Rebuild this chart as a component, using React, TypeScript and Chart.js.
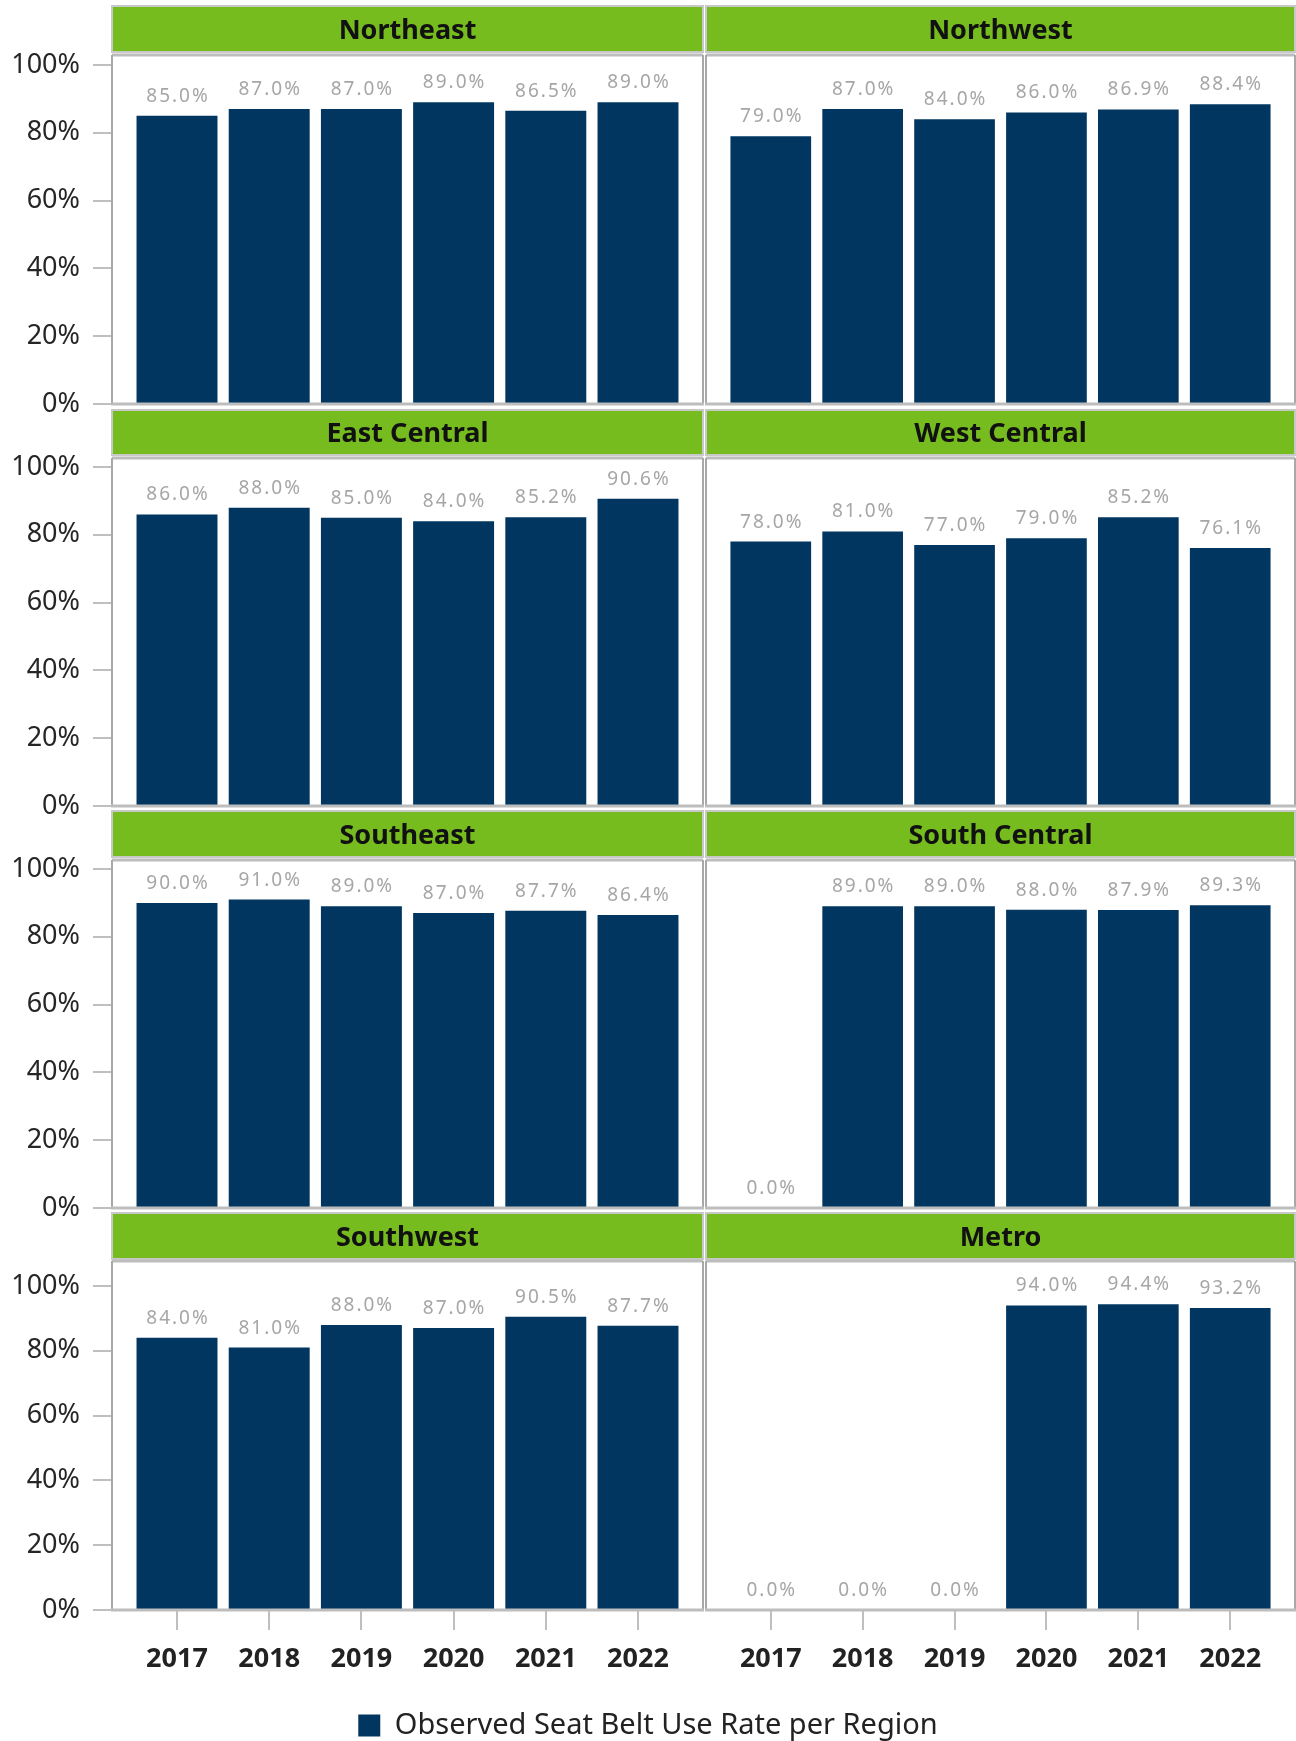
import React, { useEffect, useRef } from 'react';
import { Chart, registerables } from 'chart.js';

Chart.register(...registerables);
Chart.defaults.font.family = "'Noto Sans', sans-serif";

// ---------- data ----------
const YEARS = ['2017', '2018', '2019', '2020', '2021', '2022'];
const REGIONS = ['Northeast', 'Northwest', 'East Central', 'West Central', 'Southeast', 'South Central', 'Southwest', 'Metro'];
const NORTHEAST = [85.0, 87.0, 87.0, 89.0, 86.5, 89.0];
const NORTHWEST = [79.0, 87.0, 84.0, 86.0, 86.9, 88.4];
const EAST_CENTRAL = [86.0, 88.0, 85.0, 84.0, 85.2, 90.6];
const WEST_CENTRAL = [78.0, 81.0, 77.0, 79.0, 85.2, 76.1];
const SOUTHEAST = [90.0, 91.0, 89.0, 87.0, 87.7, 86.4];
const SOUTH_CENTRAL = [0.0, 89.0, 89.0, 88.0, 87.9, 89.3];
const SOUTHWEST = [84.0, 81.0, 88.0, 87.0, 90.5, 87.7];
const METRO = [0.0, 0.0, 0.0, 94.0, 94.4, 93.2];
const PANEL_VALUES = [NORTHEAST, NORTHWEST, EAST_CENTRAL, WEST_CENTRAL, SOUTHEAST, SOUTH_CENTRAL, SOUTHWEST, METRO];
const Y_TICKS = [0, 20, 40, 60, 80, 100];
const LEGEND_LABEL = 'Observed Seat Belt Use Rate per Region';

// ---------- styles / layout ----------
const BAR_COLOR = '#00365F';
const GREEN = '#77BC1F';
const FRAME_GRAY = '#BDBDBD';
const DIVIDER_GRAY = '#A8A8A8';
const X_MIN = -0.705;
const X_MAX = 5.705;

const COLS = [
  { left: 0, width: 705, padLeft: 0, padRight: 2, axisWidth: 112, showY: true },
  { left: 705, width: 591, padLeft: 1, padRight: 1, axisWidth: 0, showY: false },
];
const ROWS = [
  { headerTop: 6, headerBottom: 52, frameTop: 55, y100: 65, y0: 404 },
  { headerTop: 410, headerBottom: 455, frameTop: 458, y100: 467, y0: 806 },
  { headerTop: 811, headerBottom: 857, frameTop: 860, y100: 869, y0: 1208 },
  { headerTop: 1213, headerBottom: 1259, frameTop: 1261, y100: 1286, y0: 1610 },
];
const LAST_BOTTOM = 1698;

type PanelGeom = { title: string; values: number[]; row: any; col: any; top: number; bottom: number; isLast: boolean };

const panels: PanelGeom[] = REGIONS.map((title, i) => {
  const r = Math.floor(i / 2);
  const c = i % 2;
  const row = ROWS[r];
  const isLast = r === ROWS.length - 1;
  const top = Math.max(0, row.headerTop - 8);
  const bottom = isLast ? LAST_BOTTOM : row.y0 + 36;
  return { title, values: PANEL_VALUES[i], row, col: COLS[c], top, bottom, isLast };
});

function framePlugin(p: PanelGeom) {
  return {
    id: 'panelFrame',
    beforeDatasetsDraw(chart: any) {
      const ctx = chart.ctx;
      const { left: L, right: R } = chart.chartArea;
      const hT = p.row.headerTop - p.top;
      const hB = p.row.headerBottom - p.top;
      const fT = p.row.frameTop - p.top;
      const y0 = p.row.y0 - p.top;
      ctx.save();
      ctx.fillStyle = GREEN;
      ctx.fillRect(L, hT, R - L, hB - hT);
      ctx.strokeStyle = '#C8C8C8';
      ctx.lineWidth = 2;
      ctx.strokeRect(L, hT, R - L, hB - hT);
      ctx.fillStyle = '#111111';
      ctx.font = "bold 27px 'Noto Sans'";
      ctx.textAlign = 'center';
      ctx.textBaseline = 'alphabetic';
      ctx.fillText(p.title, (L + R) / 2, (hT + hB) / 2 + 9.6);
      ctx.strokeStyle = FRAME_GRAY;
      ctx.lineWidth = 3;
      ctx.beginPath();
      ctx.moveTo(L, fT);
      ctx.lineTo(R, fT);
      ctx.stroke();
      ctx.strokeStyle = DIVIDER_GRAY;
      ctx.lineWidth = 2;
      ctx.beginPath();
      ctx.moveTo(L, fT);
      ctx.lineTo(L, y0);
      ctx.moveTo(R, fT);
      ctx.lineTo(R, y0);
      ctx.stroke();
      ctx.restore();
    },
    afterDatasetsDraw(chart: any) {
      const ctx = chart.ctx;
      const { left: L, right: R } = chart.chartArea;
      const y0 = p.row.y0 - p.top;
      ctx.save();
      ctx.strokeStyle = FRAME_GRAY;
      ctx.lineWidth = 3;
      ctx.beginPath();
      ctx.moveTo(L - 1, y0);
      ctx.lineTo(R + 1, y0);
      ctx.stroke();
      ctx.restore();
    },
  };
}

const valueLabelPlugin = {
  id: 'valueLabels',
  afterDatasetsDraw(chart: any) {
    const ctx = chart.ctx;
    const meta = chart.getDatasetMeta(0);
    const ds = chart.data.datasets[0];
    ctx.save();
    ctx.font = "19px 'Noto Sans'";
    ctx.fillStyle = '#A6A6A6';
    ctx.textAlign = 'center';
    ctx.textBaseline = 'alphabetic';
    (ctx as any).letterSpacing = '2px';
    meta.data.forEach((el: any, i: number) => {
      const v = ds.data[i].y;
      ctx.fillText(v.toFixed(1) + '%', el.x + 1, el.y - 14);
    });
    ctx.restore();
  },
};

function makeConfig(p: PanelGeom): any {
  return {
    type: 'bar',
    data: {
      datasets: [
        {
          label: LEGEND_LABEL,
          data: p.values.map((v, i) => ({ x: i, y: v })),
          backgroundColor: BAR_COLOR,
          borderWidth: 0,
          categoryPercentage: 1,
          barPercentage: 0.878,
        },
      ],
    },
    options: {
      responsive: false,
      animation: false,
      devicePixelRatio: 1,
      layout: {
        padding: {
          top: p.row.y100 - p.top,
          bottom: p.isLast ? 0 : p.bottom - p.row.y0,
          left: p.col.padLeft,
          right: p.col.padRight,
        },
      },
      plugins: { legend: { display: false }, tooltip: { enabled: false }, title: { display: false } },
      scales: {
        x: {
          type: 'linear',
          min: X_MIN,
          max: X_MAX,
          offset: false,
          display: p.isLast,
          afterBuildTicks: (s: any) => {
            s.ticks = YEARS.map((_, i) => ({ value: i }));
          },
          afterFit: (s: any) => {
            if (p.isLast) s.height = p.bottom - p.row.y0;
          },
          grid: { offset: false, drawOnChartArea: false, drawTicks: true, tickLength: 20, color: '#BFBFBF', lineWidth: 2 },
          border: { display: false },
          ticks: {
            autoSkip: false,
            maxRotation: 0,
            minRotation: 0,
            padding: 13,
            color: '#222222',
            font: { size: 27, weight: 'bold' },
            callback: (v: number) => YEARS[v] ?? '',
          },
        },
        y: {
          type: 'linear',
          min: 0,
          max: 100,
          display: p.col.showY,
          afterBuildTicks: (s: any) => {
            s.ticks = Y_TICKS.map((v) => ({ value: v }));
          },
          afterFit: (s: any) => {
            if (p.col.showY) s.width = p.col.axisWidth;
          },
          grid: { drawOnChartArea: false, drawTicks: true, tickLength: 19, color: '#BFBFBF', lineWidth: 2 },
          border: { display: false },
          ticks: {
            padding: 13,
            color: '#262626',
            font: { size: 27 },
            callback: (v: number) => v + '%',
          },
        },
      },
    },
    plugins: [framePlugin(p), valueLabelPlugin],
  };
}

// legend canvas is taller than the visible strip so the legend box is not capped at half its height
const LEGEND_BOX = { left: 0, top: 1698, width: 1296, height: 130 };

function legendConfig(): any {
  return {
    type: 'bar',
    data: { labels: [], datasets: [{ label: LEGEND_LABEL, data: [], backgroundColor: BAR_COLOR, borderWidth: 0 }] },
    options: {
      responsive: false,
      animation: false,
      devicePixelRatio: 1,
      layout: { padding: 0 },
      scales: { x: { display: false }, y: { display: false } },
      plugins: {
        tooltip: { enabled: false },
        legend: {
          display: true,
          position: 'top',
          labels: { boxWidth: 22, boxHeight: 22, padding: 13, color: '#222222', font: { size: 29 } },
        },
      },
    },
  };
}

export default function App() {
  const refs = useRef<(HTMLCanvasElement | null)[]>([]);
  const legendRef = useRef<HTMLCanvasElement | null>(null);

  useEffect(() => {
    const charts: Chart[] = [];
    panels.forEach((p, i) => {
      const cv = refs.current[i];
      if (cv) charts.push(new Chart(cv, makeConfig(p)));
    });
    if (legendRef.current) charts.push(new Chart(legendRef.current, legendConfig()));
    return () => charts.forEach((c) => c.destroy());
  }, []);

  return (
    <div style={{ position: 'absolute', left: 0, top: 0, width: 1296, height: 1741, background: '#ffffff', overflow: 'hidden' }}>
      {panels.map((p, i) => (
        <canvas
          key={p.title}
          ref={(el) => {
            refs.current[i] = el;
          }}
          width={p.col.width}
          height={p.bottom - p.top}
          style={{ position: 'absolute', left: p.col.left, top: p.top, width: p.col.width, height: p.bottom - p.top }}
        />
      ))}
      <canvas
        ref={legendRef}
        width={LEGEND_BOX.width}
        height={LEGEND_BOX.height}
        style={{ position: 'absolute', left: LEGEND_BOX.left, top: LEGEND_BOX.top, width: LEGEND_BOX.width, height: LEGEND_BOX.height }}
      />
    </div>
  );
}
